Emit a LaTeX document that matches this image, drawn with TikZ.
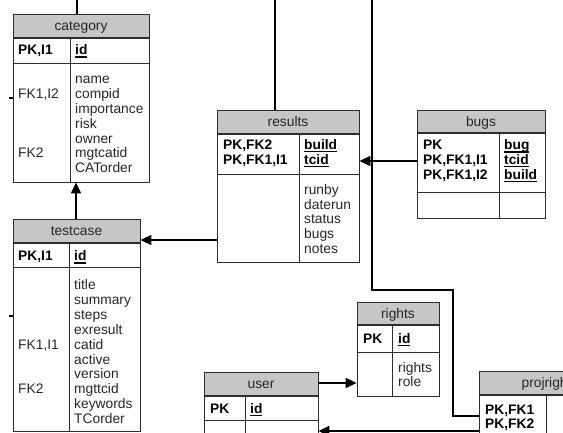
\documentclass[tikz,border=0pt]{standalone}
\usepackage{fontspec}
\setmainfont{Liberation Sans}
\usetikzlibrary{fit,arrows.meta}
\definecolor{hdrfill}{RGB}{198,198,198}
\definecolor{boxline}{RGB}{45,45,45}
\newcommand\ulx[1]{\setbox0\hbox{#1}\rlap{\rule[-2.6pt]{\wd0}{1.1pt}}\box0}
\newcommand\tblbox[8]{% #1 name, #2 x1, #3 y1, #4 x2, #5 yh, #6 yp, #7 y2, #8 xd
  \fill[hdrfill] (#2,#3) rectangle (#4,#5);
  \node[tblframe, fit={(#2,#3)(#4,#7)}] (#1) {};
  \draw[boxline, line width=1.3pt] (#2,#5) -- (#4,#5);
  \draw[boxline, line width=0.8pt] (#2,#6) -- (#4,#6);
  \draw[boxline, line width=0.8pt] (#8,#5) -- (#8,#7);
}
\newcommand\fieldlist[5]{% #1 x, #2 first baseline, #3 style, #4 list, #5 name prefix
  \foreach \t [count=\i from 0] in {#4}
    \node[txt,#3] (#5\i) at (#1,#2+\i*14.8) {\t};
}
\tikzset{
  txt/.style={font=\fontsize{13.8}{14.8}\selectfont, inner sep=0pt, anchor=base west, text=black!85},
  ttl/.style={txt, anchor=base},
  bld/.style={font=\fontsize{13.8}{14.8}\selectfont\bfseries, text=black},
  tblframe/.style={draw=boxline, line width=0.8pt, inner sep=0pt},
  conn/.style={draw=black, line width=1.4pt},
  arr/.style={conn, -{Triangle[length=11pt,width=10pt]}}
}
\begin{document}
\begin{tikzpicture}[x=1pt,y=-1pt]
\useasboundingbox (0,0) rectangle (563,433);
\clip (0,0) rectangle (563,433);

% category
\tblbox{category}{13}{14}{149}{38}{63}{182}{70}
\node[ttl] (categoryT) at (81,30.5) {category};
\node[txt,bld] (categoryK) at (18,55) {PK,I1};
\node[txt,bld] (categoryI) at (75,55) {\ulx{id}};
\fieldlist{75}{84}{}{name,compid,importance,risk,owner,mgtcatid,CATorder}{catf}
\node[txt] (categoryF1) at (18,98.8) {FK1,I2};
\node[txt] (categoryF2) at (18,158) {FK2};

% testcase
\tblbox{testcase}{13}{219}{140}{243}{267}{431}{69}
\node[ttl] (testcaseT) at (76.5,236) {testcase};
\node[txt,bld] (testcaseK) at (18,261) {PK,I1};
\node[txt,bld] (testcaseI) at (74,261) {\ulx{id}};
\fieldlist{74}{290}{}{title,summary,steps,exresult,catid,active,version,mgttcid,keywords,TCorder}{tcf}
\node[txt] (testcaseF1) at (18,349.2) {FK1,I1};
\node[txt] (testcaseF2) at (18,393.6) {FK2};

% results
\tblbox{results}{217}{110}{359}{134}{174}{262}{299}
\node[ttl] (resultsT) at (288,126.5) {results};
\node[txt,bld] (resultsK1) at (223,149.5) {PK,FK2};
\node[txt,bld] (resultsK2) at (223,164.3) {PK,FK1,I1};
\node[txt,bld] (resultsI1) at (304,149.5) {\ulx{build}};
\node[txt,bld] (resultsI2) at (304,164.3) {\ulx{tcid}};
\fieldlist{304}{194.3}{}{runby,daterun,status,bugs,notes}{resf}

% bugs
\tblbox{bugs}{417}{110}{545}{133}{192}{218}{499}
\node[ttl] (bugsT) at (481,126.5) {bugs};
\node[txt,bld] (bugsK1) at (423,150) {PK};
\node[txt,bld] (bugsK2) at (423,164.8) {PK,FK1,I1};
\node[txt,bld] (bugsK3) at (423,179.6) {PK,FK1,I2};
\node[txt,bld] (bugsI1) at (504,150) {\ulx{bug}};
\node[txt,bld] (bugsI2) at (504,164.8) {\ulx{tcid}};
\node[txt,bld] (bugsI3) at (504,179.6) {\ulx{build}};

% rights
\tblbox{rights}{357}{302}{439}{325}{352}{396}{392}
\node[ttl] (rightsT) at (398,318.5) {rights};
\node[txt,bld] (rightsK) at (363,343) {PK};
\node[txt,bld] (rightsI) at (398,343) {\ulx{id}};
\fieldlist{398}{372}{}{rights,role}{rgf}

% user
\tblbox{user}{204}{372}{318}{396}{420}{450}{245}
\node[ttl] (userT) at (261,388.5) {user};
\node[txt,bld] (userK) at (210,413) {PK};
\node[txt,bld] (userI) at (250,413) {\ulx{id}};

% projrights
\tblbox{projrights}{479}{371}{621}{395}{442}{450}{546}
\node[ttl] (projrightsT) at (550,387.5) {projrights};
\node[txt,bld] (projrightsK1) at (485,414) {PK,FK1};
\node[txt,bld] (projrightsK2) at (485,428.8) {PK,FK2};

% connectors
\coordinate (topA) at (77,0);
\draw[conn] (topA) -- (topA |- category.north);
\coordinate (tickA) at (9,98);
\draw[conn] (tickA) -- (tickA -| category.west);
\coordinate (tickB) at (9,316);
\draw[conn] (tickB) -- (tickB -| testcase.west);
\coordinate (tcx) at (76,0);
\draw[arr] (tcx |- testcase.north) -- (tcx |- category.south);
\coordinate (ry) at (0,240);
\draw[arr] (ry -| results.west) -- (ry -| testcase.east);
\coordinate (topB) at (275,0);
\draw[conn] (topB) -- (topB |- results.north);
\coordinate (by) at (0,161);
\draw[arr] (by -| bugs.west) -- (by -| results.east);
\coordinate (topC) at (372,0);
\coordinate (bendC) at (453,290);
\coordinate (py) at (0,416);
\draw[conn] (topC) |- (bendC) |- (py -| projrights.west);
\coordinate (uy) at (0,383);
\draw[arr] (uy -| user.east) -- (uy -| rights.west);
\coordinate (qy) at (0,431);
\draw[arr] (qy -| projrights.west) -- (qy -| user.east);
\end{tikzpicture}
\end{document}
